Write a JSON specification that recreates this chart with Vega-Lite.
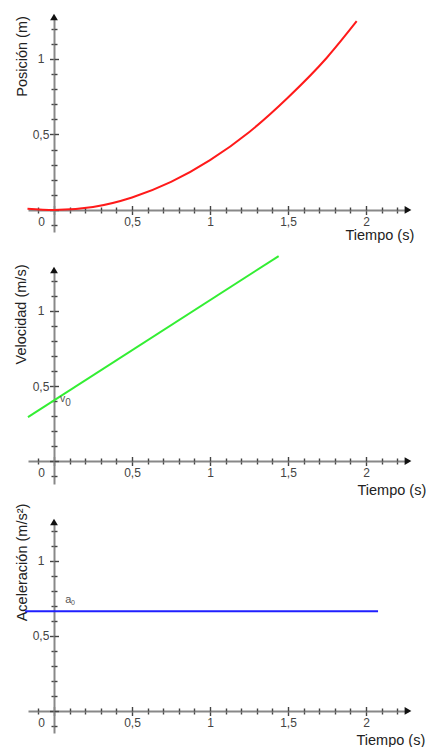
{
  "$schema": "https://vega.github.io/schema/vega-lite/v6.json",
  "padding": {"left": 12, "top": 13, "right": 0, "bottom": 0},
  "bounds": "flush",
  "spacing": 38,
  "config": {
    "view": {"stroke": null},
    "font": "Liberation Sans",
    "axis": {
      "grid": false,
      "domainColor": "#888888",
      "domainWidth": 2,
      "tickColor": "#444444",
      "tickWidth": 1.4,
      "labelFont": "Liberation Sans",
      "labelFontSize": 12,
      "labelColor": "#444444",
      "labelOverlap": false,
      "labelFlush": false,
      "titleFont": "Liberation Sans",
      "titleFontSize": 14.5,
      "titleFontWeight": "normal",
      "titleColor": "#222222"
    }
  },
  "vconcat": [
    {
      "width": 380,
      "height": 215,
      "layer": [
        {
          "data": {"values": [
            {"t": -0.17, "pos": 0.009},
            {"t": 0, "pos": 0},
            {"t": 0.25, "pos": 0.02},
            {"t": 0.5, "pos": 0.083},
            {"t": 0.75, "pos": 0.186},
            {"t": 1, "pos": 0.33},
            {"t": 1.25, "pos": 0.515},
            {"t": 1.5, "pos": 0.745},
            {"t": 1.75, "pos": 1.01},
            {"t": 1.94, "pos": 1.25}
          ]},
          "mark": {"type": "line", "color": "#ff1a1a", "strokeWidth": 2, "interpolate": "monotone"},
          "encoding": {
            "x": {"field": "t", "type": "quantitative",
              "scale": {"domain": [-0.1667, 2.269], "nice": false, "zero": false},
              "axis": {"orient": "bottom", "offset": -22,
                "values": [-0.1, 0, 0.1, 0.2, 0.3, 0.4, 0.5, 0.6, 0.7, 0.8, 0.9, 1, 1.1, 1.2, 1.3, 1.4, 1.5, 1.6, 1.7, 1.8, 1.9, 2, 2.1, 2.2],
                "tickSize": {"condition": {"test": "abs(datum.value*2 - round(datum.value*2)) < 0.001", "value": 4.5}, "value": 3},
                "labelPadding": 2,
                "labelOffset": {"condition": {"test": "abs(datum.value) < 0.001", "value": -13}, "value": 0},
                "labelExpr": "(abs(datum.value*2 - round(datum.value*2)) < 0.001 && datum.value > -0.01) ? replace(format(datum.value, '~g'), '.', ',') : ''",
                "title": "Tiempo (s)", "titleAlign": "left", "titleBaseline": "middle", "titleX": 317, "titleY": 25}},
            "y": {"field": "pos", "type": "quantitative",
              "scale": {"domain": [-0.1457, 1.278], "nice": false, "zero": false},
              "axis": {"orient": "left", "offset": -26,
                "values": [-0.1, 0, 0.1, 0.2, 0.3, 0.4, 0.5, 0.6, 0.7, 0.8, 0.9, 1, 1.1, 1.2],
                "tickSize": {"condition": {"test": "abs(datum.value*2 - round(datum.value*2)) < 0.001", "value": 4.5}, "value": 3},
                "labelAlign": "center", "labelPadding": 9,
                "labelExpr": "(abs(datum.value*2 - round(datum.value*2)) < 0.001 && datum.value > 0.01) ? replace(format(datum.value, '~g'), '.', ',') : ''",
                "title": "Posición (m)", "titleAngle": -90, "titleAlign": "center", "titleBaseline": "middle", "titleX": -32, "titleY": 39}}
          }
        },
        {
          "data": {"values": [{}]},
          "mark": {"type": "point", "shape": "triangle-right", "filled": true, "size": 60, "color": "#111111", "opacity": 1},
          "encoding": {
            "x": {"datum": 2.269, "type": "quantitative", "scale": {"domain": [-0.1667, 2.269], "nice": false, "zero": false},
              "axis": {"orient": "bottom", "offset": -22, "domain": false, "labels": false, "title": null,
                "values": [-0.1, 0, 0.1, 0.2, 0.3, 0.4, 0.5, 0.6, 0.7, 0.8, 0.9, 1, 1.1, 1.2, 1.3, 1.4, 1.5, 1.6, 1.7, 1.8, 1.9, 2, 2.1, 2.2],
                "tickSize": {"condition": {"test": "abs(datum.value*2 - round(datum.value*2)) < 0.001", "value": -4.5}, "value": -3}}},
            "y": {"datum": 0, "type": "quantitative", "scale": {"domain": [-0.1457, 1.278], "nice": false, "zero": false},
              "axis": {"orient": "left", "offset": -26, "domain": false, "labels": false, "title": null,
                "values": [-0.1, 0, 0.1, 0.2, 0.3, 0.4, 0.5, 0.6, 0.7, 0.8, 0.9, 1, 1.1, 1.2],
                "tickSize": {"condition": {"test": "abs(datum.value*2 - round(datum.value*2)) < 0.001", "value": -4.5}, "value": -3}}}
          }
        },
        {
          "data": {"values": [{}]},
          "mark": {"type": "point", "shape": "triangle-up", "filled": true, "size": 60, "color": "#111111", "opacity": 1},
          "encoding": {
            "x": {"datum": 0, "type": "quantitative", "scale": {"domain": [-0.1667, 2.269], "nice": false, "zero": false}, "axis": null},
            "y": {"datum": 1.278, "type": "quantitative", "scale": {"domain": [-0.1457, 1.278], "nice": false, "zero": false}, "axis": null}
          }
        }
      ],
      "resolve": {"axis": {"x": "independent", "y": "independent"}}
    },
    {
      "width": 380,
      "height": 214,
      "layer": [
        {
          "data": {"values": [
            {"t": -0.167, "vel": 0.293},
            {"t": 1.44, "vel": 1.366}
          ]},
          "mark": {"type": "line", "color": "#33ee33", "strokeWidth": 2},
          "encoding": {
            "x": {"field": "t", "type": "quantitative",
              "scale": {"domain": [-0.1667, 2.269], "nice": false, "zero": false},
              "axis": {"orient": "bottom", "offset": -23,
                "values": [-0.1, 0, 0.1, 0.2, 0.3, 0.4, 0.5, 0.6, 0.7, 0.8, 0.9, 1, 1.1, 1.2, 1.3, 1.4, 1.5, 1.6, 1.7, 1.8, 1.9, 2, 2.1, 2.2],
                "tickSize": {"condition": {"test": "abs(datum.value*2 - round(datum.value*2)) < 0.001", "value": 4.5}, "value": 3},
                "labelPadding": 2,
                "labelOffset": {"condition": {"test": "abs(datum.value) < 0.001", "value": -13}, "value": 0},
                "labelExpr": "(abs(datum.value*2 - round(datum.value*2)) < 0.001 && datum.value > -0.01) ? replace(format(datum.value, '~g'), '.', ',') : ''",
                "title": "Tiempo (s)", "titleAlign": "left", "titleBaseline": "middle", "titleX": 329, "titleY": 29}},
            "y": {"field": "vel", "type": "quantitative",
              "scale": {"domain": [-0.153, 1.273], "nice": false, "zero": false},
              "axis": {"orient": "left", "offset": -26,
                "values": [-0.1, 0, 0.1, 0.2, 0.3, 0.4, 0.5, 0.6, 0.7, 0.8, 0.9, 1, 1.1, 1.2],
                "tickSize": {"condition": {"test": "abs(datum.value*2 - round(datum.value*2)) < 0.001", "value": 4.5}, "value": 3},
                "labelAlign": "center", "labelPadding": 9,
                "labelExpr": "(abs(datum.value*2 - round(datum.value*2)) < 0.001 && datum.value > 0.01) ? replace(format(datum.value, '~g'), '.', ',') : ''",
                "title": "Velocidad (m/s)", "titleAngle": -90, "titleAlign": "center", "titleBaseline": "middle", "titleX": -33, "titleY": 44}}
          }
        },
        {
          "data": {"values": [{}]},
          "mark": {"type": "point", "shape": "triangle-right", "filled": true, "size": 60, "color": "#111111", "opacity": 1},
          "encoding": {
            "x": {"datum": 2.269, "type": "quantitative", "scale": {"domain": [-0.1667, 2.269], "nice": false, "zero": false},
              "axis": {"orient": "bottom", "offset": -23, "domain": false, "labels": false, "title": null,
                "values": [-0.1, 0, 0.1, 0.2, 0.3, 0.4, 0.5, 0.6, 0.7, 0.8, 0.9, 1, 1.1, 1.2, 1.3, 1.4, 1.5, 1.6, 1.7, 1.8, 1.9, 2, 2.1, 2.2],
                "tickSize": {"condition": {"test": "abs(datum.value*2 - round(datum.value*2)) < 0.001", "value": -4.5}, "value": -3}}},
            "y": {"datum": 0, "type": "quantitative", "scale": {"domain": [-0.153, 1.273], "nice": false, "zero": false},
              "axis": {"orient": "left", "offset": -26, "domain": false, "labels": false, "title": null,
                "values": [-0.1, 0, 0.1, 0.2, 0.3, 0.4, 0.5, 0.6, 0.7, 0.8, 0.9, 1, 1.1, 1.2],
                "tickSize": {"condition": {"test": "abs(datum.value*2 - round(datum.value*2)) < 0.001", "value": -4.5}, "value": -3}}}
          }
        },
        {
          "data": {"values": [{}]},
          "mark": {"type": "point", "shape": "triangle-up", "filled": true, "size": 60, "color": "#111111", "opacity": 1},
          "encoding": {
            "x": {"datum": 0, "type": "quantitative", "scale": {"domain": [-0.1667, 2.269], "nice": false, "zero": false}, "axis": null},
            "y": {"datum": 1.273, "type": "quantitative", "scale": {"domain": [-0.153, 1.273], "nice": false, "zero": false}, "axis": null}
          }
        },
        {
          "data": {"values": [{}]},
          "mark": {"type": "text", "text": "v", "font": "Liberation Sans", "fontSize": 10.5, "color": "#555555", "baseline": "middle", "align": "center"},
          "encoding": {
            "x": {"datum": 0.056, "type": "quantitative", "scale": {"domain": [-0.1667, 2.269], "nice": false, "zero": false}, "axis": null},
            "y": {"datum": 0.413, "type": "quantitative", "scale": {"domain": [-0.153, 1.273], "nice": false, "zero": false}, "axis": null}
          }
        },
        {
          "data": {"values": [{}]},
          "mark": {"type": "text", "text": "0", "font": "Liberation Sans", "fontSize": 10, "color": "#555555", "baseline": "middle", "align": "center"},
          "encoding": {
            "x": {"datum": 0.09, "type": "quantitative", "scale": {"domain": [-0.1667, 2.269], "nice": false, "zero": false}, "axis": null},
            "y": {"datum": 0.39, "type": "quantitative", "scale": {"domain": [-0.153, 1.273], "nice": false, "zero": false}, "axis": null}
          }
        }
      ],
      "resolve": {"axis": {"x": "independent", "y": "independent"}}
    },
    {
      "width": 380,
      "height": 211,
      "layer": [
        {
          "data": {"values": [
            {"t": -0.185, "acc": 0.665},
            {"t": 2.077, "acc": 0.665}
          ]},
          "mark": {"type": "line", "color": "#1f1fff", "strokeWidth": 2},
          "encoding": {
            "x": {"field": "t", "type": "quantitative",
              "scale": {"domain": [-0.1667, 2.269], "nice": false, "zero": false},
              "axis": {"orient": "bottom", "offset": -22,
                "values": [-0.1, 0, 0.1, 0.2, 0.3, 0.4, 0.5, 0.6, 0.7, 0.8, 0.9, 1, 1.1, 1.2, 1.3, 1.4, 1.5, 1.6, 1.7, 1.8, 1.9, 2, 2.1, 2.2],
                "tickSize": {"condition": {"test": "abs(datum.value*2 - round(datum.value*2)) < 0.001", "value": 4.5}, "value": 3},
                "labelPadding": 2,
                "labelOffset": {"condition": {"test": "abs(datum.value) < 0.001", "value": -13}, "value": 0},
                "labelExpr": "(abs(datum.value*2 - round(datum.value*2)) < 0.001 && datum.value > -0.01) ? replace(format(datum.value, '~g'), '.', ',') : ''",
                "title": "Tiempo (s)", "titleAlign": "left", "titleBaseline": "middle", "titleX": 328, "titleY": 29}},
            "y": {"field": "acc", "type": "quantitative",
              "scale": {"domain": [-0.147, 1.26], "nice": false, "zero": false},
              "axis": {"orient": "left", "offset": -26,
                "values": [-0.1, 0, 0.1, 0.2, 0.3, 0.4, 0.5, 0.6, 0.7, 0.8, 0.9, 1, 1.1, 1.2],
                "tickSize": {"condition": {"test": "abs(datum.value*2 - round(datum.value*2)) < 0.001", "value": 4.5}, "value": 3},
                "labelAlign": "center", "labelPadding": 9,
                "labelExpr": "(abs(datum.value*2 - round(datum.value*2)) < 0.001 && datum.value > 0.01) ? replace(format(datum.value, '~g'), '.', ',') : ''",
                "title": "Aceleración (m/s²)", "titleAngle": -90, "titleAlign": "center", "titleBaseline": "middle", "titleX": -32, "titleY": 40}}
          }
        },
        {
          "data": {"values": [{}]},
          "mark": {"type": "point", "shape": "triangle-right", "filled": true, "size": 60, "color": "#111111", "opacity": 1},
          "encoding": {
            "x": {"datum": 2.269, "type": "quantitative", "scale": {"domain": [-0.1667, 2.269], "nice": false, "zero": false},
              "axis": {"orient": "bottom", "offset": -22, "domain": false, "labels": false, "title": null,
                "values": [-0.1, 0, 0.1, 0.2, 0.3, 0.4, 0.5, 0.6, 0.7, 0.8, 0.9, 1, 1.1, 1.2, 1.3, 1.4, 1.5, 1.6, 1.7, 1.8, 1.9, 2, 2.1, 2.2],
                "tickSize": {"condition": {"test": "abs(datum.value*2 - round(datum.value*2)) < 0.001", "value": -4.5}, "value": -3}}},
            "y": {"datum": 0, "type": "quantitative", "scale": {"domain": [-0.147, 1.26], "nice": false, "zero": false},
              "axis": {"orient": "left", "offset": -26, "domain": false, "labels": false, "title": null,
                "values": [-0.1, 0, 0.1, 0.2, 0.3, 0.4, 0.5, 0.6, 0.7, 0.8, 0.9, 1, 1.1, 1.2],
                "tickSize": {"condition": {"test": "abs(datum.value*2 - round(datum.value*2)) < 0.001", "value": -4.5}, "value": -3}}}
          }
        },
        {
          "data": {"values": [{}]},
          "mark": {"type": "point", "shape": "triangle-up", "filled": true, "size": 60, "color": "#111111", "opacity": 1},
          "encoding": {
            "x": {"datum": 0, "type": "quantitative", "scale": {"domain": [-0.1667, 2.269], "nice": false, "zero": false}, "axis": null},
            "y": {"datum": 1.26, "type": "quantitative", "scale": {"domain": [-0.147, 1.26], "nice": false, "zero": false}, "axis": null}
          }
        },
        {
          "data": {"values": [{}]},
          "mark": {"type": "text", "text": "a", "font": "Liberation Sans", "fontSize": 11, "color": "#555555", "baseline": "middle", "align": "center"},
          "encoding": {
            "x": {"datum": 0.092, "type": "quantitative", "scale": {"domain": [-0.1667, 2.269], "nice": false, "zero": false}, "axis": null},
            "y": {"datum": 0.74, "type": "quantitative", "scale": {"domain": [-0.147, 1.26], "nice": false, "zero": false}, "axis": null}
          }
        },
        {
          "data": {"values": [{}]},
          "mark": {"type": "text", "text": "0", "font": "Liberation Sans", "fontSize": 7, "color": "#555555", "baseline": "middle", "align": "center"},
          "encoding": {
            "x": {"datum": 0.122, "type": "quantitative", "scale": {"domain": [-0.1667, 2.269], "nice": false, "zero": false}, "axis": null},
            "y": {"datum": 0.723, "type": "quantitative", "scale": {"domain": [-0.147, 1.26], "nice": false, "zero": false}, "axis": null}
          }
        }
      ],
      "resolve": {"axis": {"x": "independent", "y": "independent"}}
    }
  ]
}
